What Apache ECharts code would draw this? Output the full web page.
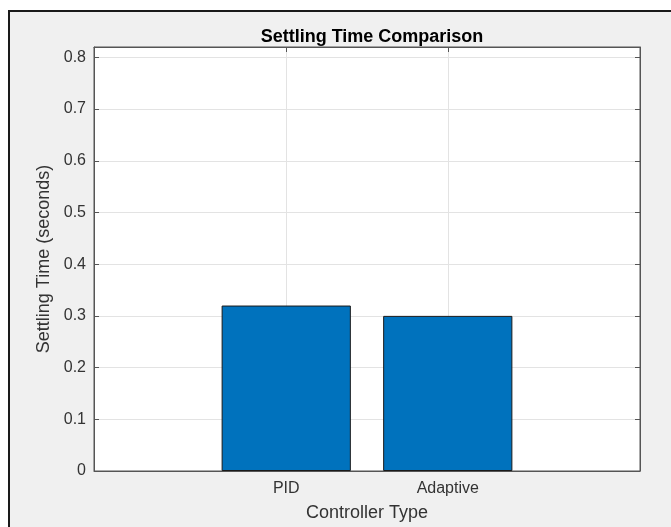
<!DOCTYPE html>
<html>
<head>
<meta charset="utf-8">
<script src="https://cdn.jsdelivr.net/npm/echarts@6/dist/echarts.min.js"></script>
<style>
  html, body { margin: 0; padding: 0; background: #fff; }
  #frame {
    position: absolute; left: 8px; top: 10px; right: 0; bottom: 0;
    background: #f0f0f0;
    border-top: 2px solid #1a1a1a; border-left: 2px solid #1a1a1a;
  }
  #graph1 { position: absolute; left: 0; top: 0; width: 671px; height: 527px; }
</style>
</head>
<body>
<div id="frame"></div>
<div id="graph1"></div>
<script>
var chart1 = echarts.init(document.getElementById('graph1'));

// data
var categories = ['PID', 'Adaptive'];
var positions = [1, 2];
var settlingTime = [0.32, 0.30];

var font = 'Liberation Sans';
var axisCol = '#555';

var barData = positions.map(function (p, i) {
  return [p, settlingTime[i]];
});

var option = {
  animation: false,
  title: {
    text: 'Settling Time Comparison',
    left: 367,
    top: 23,
    textAlign: 'center',
    textStyle: { fontFamily: font, fontSize: 18, fontWeight: 'bold', color: '#000' }
  },
  grid: {
    left: 94,
    top: 47,
    right: 31,
    bottom: 49,
    show: true,
    backgroundColor: '#fff',
    borderColor: axisCol,
    borderWidth: 1
  },
  xAxis: [
    {
      type: 'value',
      min: -0.19,
      max: 3.19,
      name: 'Controller Type',
      nameLocation: 'middle',
      nameGap: 33,
      nameTextStyle: { fontFamily: font, fontSize: 18, color: '#333' },
      axisLine: { show: true, onZero: false, lineStyle: { color: axisCol } },
      axisTick: { show: true, inside: true, length: 5, customValues: positions, lineStyle: { color: axisCol } },
      axisLabel: {
        customValues: positions,
        margin: 10,
        fontFamily: font, fontSize: 16, color: '#333',
        formatter: function (v) { return categories[positions.indexOf(v)] || ''; }
      },
      splitLine: { show: true, lineStyle: { color: '#e3e3e3' } }
    },
    {
      type: 'value',
      position: 'top',
      min: -0.19,
      max: 3.19,
      axisLine: { show: true, onZero: false, lineStyle: { color: axisCol } },
      axisTick: { show: true, inside: true, length: 5, customValues: positions, lineStyle: { color: axisCol } },
      axisLabel: { show: false },
      splitLine: { show: false }
    }
  ],
  yAxis: [
    {
      type: 'value',
      min: 0,
      max: 0.82,
      interval: 0.1,
      name: 'Settling Time (seconds)',
      nameLocation: 'middle',
      nameGap: 39,
      nameTextStyle: { fontFamily: font, fontSize: 18, color: '#333' },
      axisLine: { show: true, onZero: false, lineStyle: { color: axisCol } },
      axisTick: { show: true, inside: true, length: 5, lineStyle: { color: axisCol } },
      axisLabel: {
        margin: 8, showMaxLabel: false,
        fontFamily: font, fontSize: 16, color: '#333',
        formatter: function (v) { return +v.toFixed(1) + ''; }
      },
      splitLine: { show: true, lineStyle: { color: '#e3e3e3' } }
    },
    {
      type: 'value',
      position: 'right',
      min: 0,
      max: 0.82,
      interval: 0.1,
      axisLine: { show: true, onZero: false, lineStyle: { color: axisCol } },
      axisTick: { show: true, inside: true, length: 5, lineStyle: { color: axisCol } },
      axisLabel: { show: false },
      splitLine: { show: false }
    }
  ],
  series: [
    {
      name: 'Settling Time',
      type: 'bar',
      xAxisIndex: 0,
      yAxisIndex: 0,
      barWidth: '80%',
      data: barData,
      itemStyle: { color: '#0072BD', borderColor: '#1a1a1a', borderWidth: 1 }
    }
  ]
};

option && chart1.setOption(option);
</script>
</body>
</html>
